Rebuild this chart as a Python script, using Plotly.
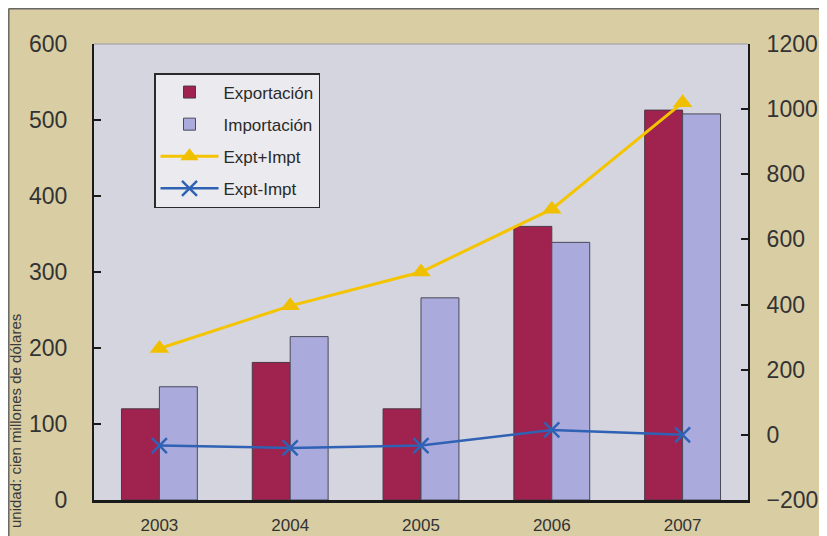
import plotly.graph_objects as go

years = ["2003", "2004", "2005", "2006", "2007"]
exportacion = [120, 181, 120, 360, 513]
importacion = [149, 215, 266, 339, 508]
expt_plus_impt = [265, 396, 500, 693, 1020]
expt_minus_impt = [-33, -40, -33, 15, 0]

left_ticks = [0, 100, 200, 300, 400, 500, 600]
right_ticks = [-200, 0, 200, 400, 600, 800, 1000, 1200]

sans = "Liberation Sans, Arial, sans-serif"

fig = go.Figure()
fig.add_trace(go.Bar(x=years, y=exportacion, name="Exportación", legendgroup="a",
                     marker=dict(color="#a0224f", line=dict(color="#4a3a44", width=1))))
fig.add_trace(go.Bar(x=years, y=importacion, name="Importación", legendgroup="b",
                     marker=dict(color="#aaaadc", line=dict(color="#4a4a5a", width=1))))
fig.add_trace(go.Scatter(x=years, y=expt_plus_impt, name="Expt+Impt", yaxis="y2", legendgroup="c",
                         mode="lines+markers", line=dict(color="#f4c400", width=3),
                         marker=dict(symbol="triangle-up", size=17, color="#f0c000")))
fig.add_trace(go.Scatter(x=years, y=expt_minus_impt, name="Expt-Impt", yaxis="y2", legendgroup="d",
                         mode="lines+markers", line=dict(color="#2f62b4", width=2.5),
                         marker=dict(symbol="x-thin", size=15, color="#2f62b4",
                                     line=dict(color="#2f62b4", width=2.5))))

# page is offset by the 8px body margin; plot area in page pixels is 94..748 x, 44..500 y
def px_x(px):
    return (px - 94) / 654.0

def px_y(py):
    return (500 - py) / 456.0

fig.update_layout(
    width=819, height=528,
    margin=dict(l=86, r=79, t=36, b=36, autoexpand=False),
    paper_bgcolor="#d9cda4",
    plot_bgcolor="#d5d5df",
    barmode="group", bargap=0.42, bargroupgap=0,
    font=dict(family=sans, color="#333333"),
    showlegend=True,
    legend=dict(x=px_x(154), y=px_y(73), xanchor="left", yanchor="top",
                bgcolor="#ebebef", bordercolor="#2a2a2a", borderwidth=1.5,
                font=dict(family=sans, size=17, color="#2a2a2a"),
                tracegroupgap=7, itemwidth=58),
    xaxis=dict(type="category", showline=True, linecolor="#1a1a1a", linewidth=2.5,
               ticks="", showgrid=False, ticklabelstandoff=8, automargin=False,
               tickfont=dict(family=sans, size=17, color="#333333")),
    yaxis=dict(range=[0, 600], tickvals=left_ticks, showgrid=False, zeroline=False,
               showline=True, linecolor="#1a1a1a", linewidth=2, ticks="inside", ticklen=7,
               tickcolor="#1a1a1a", tickwidth=1.5, ticklabelstandoff=20, automargin=False,
               tickfont=dict(family=sans, size=23, color="#333333")),
    yaxis2=dict(range=[-200, 1200], tickvals=right_ticks, overlaying="y", side="right",
                showgrid=False, zeroline=False, showline=True, linecolor="#1a1a1a", linewidth=2,
                ticks="inside", ticklen=7, tickcolor="#1a1a1a", tickwidth=1.5,
                ticklabelstandoff=12, automargin=False,
                tickfont=dict(family=sans, size=23, color="#333333")),
    shapes=[
        dict(type="line", xref="paper", yref="paper", x0=px_x(8.8), x1=px_x(840),
             y0=px_y(8.8), y1=px_y(8.8), line=dict(color="#666666", width=1.5)),
        dict(type="line", xref="paper", yref="paper", x0=px_x(8.8), x1=px_x(8.8),
             y0=px_y(8.8), y1=px_y(545), line=dict(color="#666666", width=1.5)),
        dict(type="line", xref="paper", yref="paper", x0=0, x1=1, y0=1, y1=1,
             line=dict(color="#9a9aa4", width=1)),
    ],
    annotations=[
        dict(text="unidad: cien millones de dólares", xref="paper", yref="paper",
             x=px_x(15), y=px_y(530), xanchor="center", yanchor="bottom",
             textangle=-90, showarrow=False,
             font=dict(family=sans, size=15, color="#3a3a3a")),
    ],
)

fig.write_html("out.html")
